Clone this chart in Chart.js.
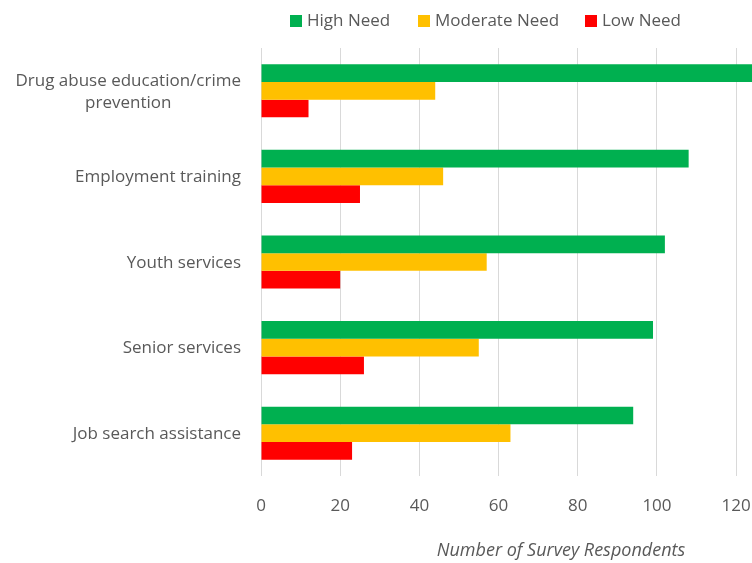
<!DOCTYPE html>
<html>
<head>
<meta charset="utf-8">
<script src="https://cdn.jsdelivr.net/npm/chart.js@4.4.1/dist/chart.umd.min.js"></script>
<style>
html, body { margin: 0; padding: 0; background: #fff; }
#wrap { position: relative; width: 752px; height: 563px; }
.item { position: absolute; top: 8px; font: 17px 'Open Sans', sans-serif; color: #595959; line-height: 24px; white-space: nowrap; }
.item i { display: inline-block; width: 12px; height: 12px; margin-right: 5px; vertical-align: -1px; }
</style>
</head>
<body>
<div id="wrap">
    <canvas id="barchart" width="752" height="563"></canvas>
    <div class="item" style="left:290px"><i style="background:#00b050"></i>High Need</div>
    <div class="item" style="left:418px"><i style="background:#ffc000"></i>Moderate Need</div>
    <div class="item" style="left:585px"><i style="background:#ff0000"></i>Low Need</div>
</div>
<script>
var categories = [['Drug abuse education/crime', 'prevention'], 'Employment training', 'Youth services', 'Senior services', 'Job search assistance'];
var highNeed = [126, 108, 102, 99, 94];
var moderateNeed = [44, 46, 57, 55, 63];
var lowNeed = [12, 25, 20, 26, 23];
var xTicks = [0, 20, 40, 60, 80, 100, 120];

var textColor = '#595959';
var font = "'Open Sans', sans-serif";

// draws the category labels (multi-line ones centred under their first line) and the axis title
var labelPlugin = {
    id: 'labelPlugin',
    afterDraw: function(chart) {
        var ctx = chart.ctx;
        var yScale = chart.scales.y;
        ctx.save();
        ctx.fillStyle = textColor;
        ctx.font = '17px ' + font;
        ctx.textAlign = 'center';
        ctx.textBaseline = 'middle';
        categories.forEach(function(label, i) {
            var lines = Array.isArray(label) ? label : [label];
            var maxW = 0;
            lines.forEach(function(l) { maxW = Math.max(maxW, ctx.measureText(l).width); });
            var cx = 241 - maxW / 2;
            var cy = yScale.getPixelForTick(i) + 1;
            lines.forEach(function(l, j) {
                ctx.fillText(l, cx, cy + (j - (lines.length - 1) / 2) * 22);
            });
        });
        ctx.font = 'italic 18px ' + font;
        ctx.fillText('Number of Survey Respondents', 561, 551);
        ctx.restore();
    }
};

var chart = new Chart(document.getElementById('barchart'), {
    type: 'bar',
    data: {
        labels: categories,
        datasets: [{
            label: 'High Need',
            data: highNeed,
            backgroundColor: '#00b050'
        }, {
            label: 'Moderate Need',
            data: moderateNeed,
            backgroundColor: '#ffc000'
        }, {
            label: 'Low Need',
            data: lowNeed,
            backgroundColor: '#ff0000'
        }]
    },
    options: {
        indexAxis: 'y',
        responsive: false,
        animation: false,
        categoryPercentage: 0.62,
        barPercentage: 1.0,
        layout: { padding: { top: 48, right: 0, bottom: 0, left: 0 } },
        scales: {
            x: {
                min: 0,
                max: 124,
                afterFit: function(scale) {
                    scale.height = 87;
                    scale.paddingLeft = 0;
                    scale.paddingRight = 0;
                },
                afterBuildTicks: function(scale) {
                    scale.ticks = xTicks.map(function(v) { return { value: v }; });
                },
                grid: { color: '#d9d9d9', drawTicks: false },
                border: { display: false },
                ticks: { color: textColor, font: { family: font, size: 17 }, padding: 20, maxRotation: 0 }
            },
            y: {
                afterFit: function(scale) { scale.width = 261; },
                grid: { display: false },
                border: { display: false },
                ticks: { display: false }
            }
        },
        plugins: {
            legend: { display: false },
            tooltip: { enabled: false }
        }
    },
    plugins: [labelPlugin]
});
</script>
</body>
</html>
